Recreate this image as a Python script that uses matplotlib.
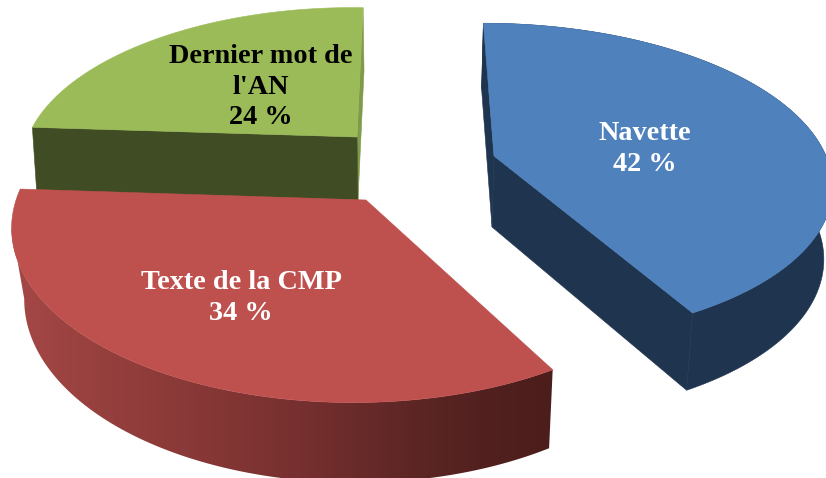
import numpy as np
import matplotlib
matplotlib.use("Agg")
import matplotlib.pyplot as plt
from matplotlib.patches import Polygon

labels = ["Navette", "Texte de la CMP", "Dernier mot de\nl'AN"]
values = [42, 34, 24]

W, H = 826, 478


def pt(t, p, bottom=False):
    # perspective point on the rim of a slice, t in radians clockwise from top
    s = 1 / (1 + 0.16 * np.cos(t) + p["j"] * np.sin(t))
    x = p["rx"] * np.sin(t) * s
    y = -p["ry"] * np.cos(t) * s
    x = x + p["skew"] * y
    cx, cy = p["c"]
    if bottom:
        return cx + p["dx"] + x * p["fx"], cy + p["d"] + y * p["fy"]
    return cx + x, cy + y


def rim(t0, t1, p, bottom=False, n=200):
    t = np.linspace(t0, t1, n)
    return pt(t, p, bottom)


def apex(p, bottom=False):
    cx, cy = p["c"]
    if bottom:
        return cx + p["dx"], cy + p["d"]
    return cx, cy


slices = [
    dict(c=(494, 156), rx=332, ry=154, j=0.0, skew=0.08, d=71, dx=-2, fx=0.98, fy=1.04,
         top="#4F81BD", side="#1F344F", txt="white", pos=(645, 149)),
    dict(c=(366, 200), rx=337, ry=170, j=0.037, skew=0.01, d=70, dx=2, fx=0.97, fy=1.05,
         top="#BE504E", side="#8A3A38", txt="white", pos=(241, 298)),
    dict(c=(357, 137), rx=316, ry=150, j=0.04, skew=-0.047, d=63, dx=1, fx=0.99, fy=1.0,
         top="#9BBB59", side="#404D24", txt="black", pos=(261, 87)),
]

ends = np.cumsum(values) / np.sum(values) * 2 * np.pi
starts = np.r_[0, ends[:-1]]

fig = plt.figure(figsize=(W / 100, H / 100), dpi=100)
ax = fig.add_axes([0, 0, 1, 1])

# green first, red over it, then blue
blue, red, green = slices
b0, b1 = starts[0], ends[0]
r0, r1 = starts[1], ends[1]
g0, g1 = starts[2], ends[2]

# green slice
p = green
far, near = pt(0.0, p), pt(g0, p)
far_b, near_b = pt(0.0, p, True), pt(g0, p, True)
a, ab = apex(p), apex(p, True)
ax.fill([a[0], far[0], far_b[0], ab[0]], [a[1], far[1], far_b[1], ab[1]], color="#7F9A48", lw=0.4, zorder=1)
ax.fill([near[0], a[0], ab[0], near_b[0]], [near[1], a[1], ab[1], near_b[1]], color=p["side"], lw=0.4, zorder=2)
x, y = rim(g0, g1, p)
ax.fill(np.r_[a[0], x], np.r_[a[1], y], color=p["top"], lw=0.4, zorder=3)

# red slice, outer wall is a left to right gradient clipped to the wall shape
p = red
wall_x = [10, 100, 200, 300, 400, 480, 553]
wall_c = np.array([[165, 72, 70], [150, 64, 62], [135, 56, 54], [118, 48, 47], [95, 39, 38], [82, 33, 31], [75, 29, 27]])
xs = np.arange(0, 560)
grad = np.stack([np.interp(xs, wall_x, wall_c[:, k]) for k in range(3)], axis=1)[None, :, :] / 255
im = ax.imshow(grad, extent=(0, 560, H, 0), aspect="auto", zorder=4)
xt, yt = rim(r0, r1, p)
xb, yb = rim(r0, r1, p, True)
# wall outline stops at the leftmost point of each rim, joined by the silhouette line
it, ib = np.argmin(xt), np.argmin(xb)
wall = Polygon(np.c_[np.r_[xt[:it + 1], xb[:ib + 1][::-1]], np.r_[yt[:it + 1], yb[:ib + 1][::-1]]],
               closed=True, transform=ax.transData)
im.set_clip_path(wall)
a = apex(p)
ax.fill(np.r_[a[0], xt], np.r_[a[1], yt], color=p["top"], lw=0.4, zorder=5)

# blue slice
p = blue
far, near = pt(b0, p), pt(b1, p)
far_b, near_b = pt(b0, p, True), pt(b1, p, True)
a, ab = apex(p), apex(p, True)
ax.fill([far[0], a[0], ab[0], far_b[0]], [far[1], a[1], ab[1], far_b[1]], color=p["side"], lw=0.4, zorder=6)
ax.fill([a[0], near[0], near_b[0], ab[0]], [a[1], near[1], near_b[1], ab[1]], color=p["side"], lw=0.4, zorder=6)
xt, yt = rim(b0, b1, p)
xb, yb = rim(b0, b1, p, True)
ax.fill(np.r_[xt, xb[::-1]], np.r_[yt, yb[::-1]], color=p["side"], lw=0.4, zorder=6)
ax.fill(np.r_[a[0], xt], np.r_[a[1], yt], color=p["top"], lw=0.4, zorder=7)

for name, val, p in zip(labels, values, slices):
    ax.text(p["pos"][0], p["pos"][1], f"{name}\n{val} %", ha="center", va="center",
            color=p["txt"], fontsize=20.3, fontweight="bold", family="Liberation Serif",
            linespacing=1.3, zorder=10)

ax.set_xlim(0, W)
ax.set_ylim(H, 0)
ax.axis("off")

fig.savefig("out.png", dpi=100)
